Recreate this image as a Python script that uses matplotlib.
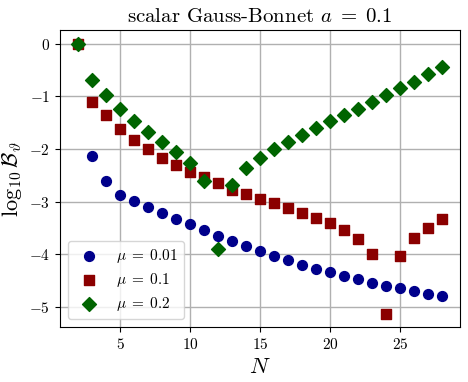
import numpy as np
import matplotlib
matplotlib.use("Agg")
from matplotlib import pyplot as plt

plt.rcParams["font.family"] = "serif"
plt.rcParams["font.serif"] = ["cmr10"]
plt.rcParams["mathtext.fontset"] = "cm"
plt.rcParams["axes.formatter.use_mathtext"] = True
plt.rcParams["axes.unicode_minus"] = True

N = list(range(2, 29))

# log10 B for each mu
B_mu001 = [0.0, -2.14, -2.60, -2.87, -2.99, -3.10, -3.21, -3.32, -3.43, -3.54,
           -3.64, -3.74, -3.84, -3.94, -4.03, -4.11, -4.20, -4.27, -4.34, -4.41,
           -4.47, -4.54, -4.59, -4.64, -4.70, -4.75, -4.79]
B_mu01 = [0.0, -1.10, -1.36, -1.61, -1.82, -2.00, -2.16, -2.30, -2.43, -2.53,
          -2.65, -2.77, -2.85, -2.94, -3.03, -3.12, -3.21, -3.30, -3.41, -3.54,
          -3.71, -3.99, -5.12, -4.03, -3.69, -3.49, -3.33]
B_mu02 = [0.0, -0.69, -0.98, -1.24, -1.46, -1.67, -1.86, -2.06, -2.27, -2.60,
          -3.89, -2.68, -2.35, -2.16, -2.00, -1.86, -1.73, -1.60, -1.47, -1.36,
          -1.24, -1.10, -0.98, -0.85, -0.72, -0.58, -0.45]

fig, ax = plt.subplots(figsize=(4.68, 3.82), dpi=100)
fig.subplots_adjust(left=0.128, right=0.983, top=0.921, bottom=0.144)

ax.scatter(N, B_mu001, marker="o", s=50, color="#00008b", label=r"$\mu\;=\;0.01$", zorder=3)
ax.scatter(N, B_mu01, marker="s", s=50, color="#8b0000", label=r"$\mu\;=\;0.1$", zorder=3)
ax.scatter(N, B_mu02, marker="D", s=50, color="#006400", label=r"$\mu\;=\;0.2$", zorder=3)

ax.grid(True, color="#b0b0b0", linewidth=1)
ax.set_axisbelow(True)
ax.set_xticks([5, 10, 15, 20, 25])
ax.tick_params(labelsize=11)
ax.set_xlabel(r"$N$", fontsize=16)
ax.set_ylabel(r"$\log_{10}\mathcal{B}_\vartheta$", fontsize=16)
ax.set_title(r"scalar Gauss-Bonnet $a\;=\;0.1$", fontsize=15)
ax.legend(loc="lower left", fontsize=11, labelspacing=0.4, handletextpad=0.8)

fig.savefig("out.png", dpi=100)
